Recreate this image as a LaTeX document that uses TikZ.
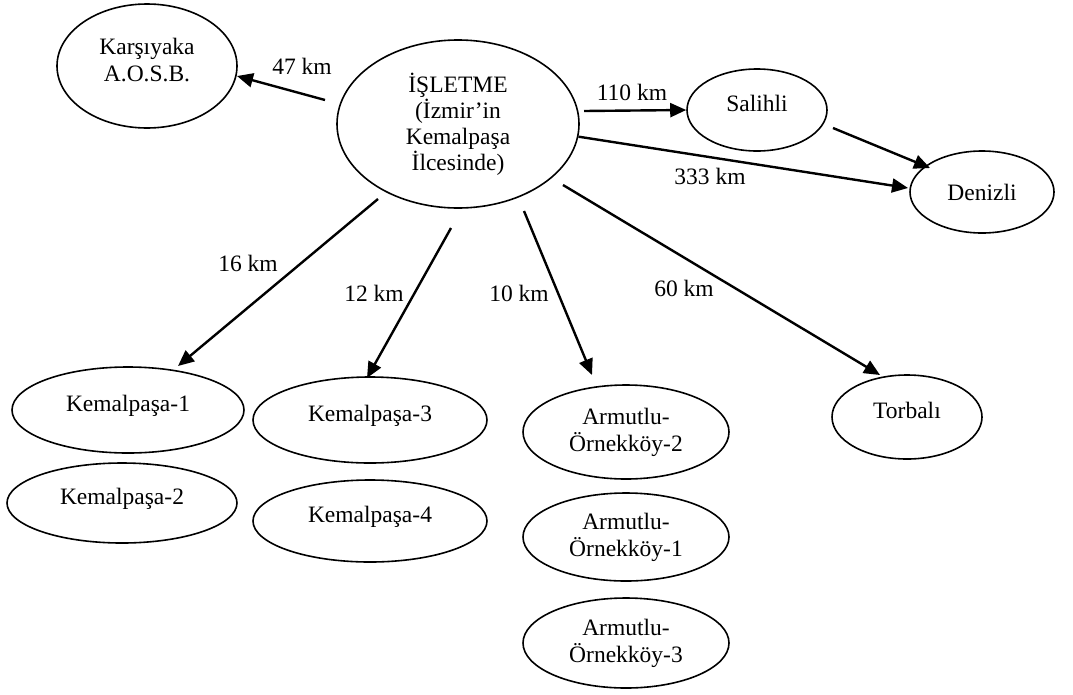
\documentclass[tikz,border=0pt]{standalone}
\usepackage{fontspec}
\setmainfont{Liberation Serif}
\usetikzlibrary{shapes.geometric,arrows.meta}
\begin{document}
\begin{tikzpicture}[x=1pt,y=-1pt,
  ell/.style={ellipse, draw, line width=1.6pt, inner sep=0pt, align=center,
              font=\fontsize{23.5}{27}\selectfont},
  up/.style={text height=16pt, text depth=14pt},
  arr/.style={line width=2.4pt, -{Triangle[length=16pt,width=14pt]}},
  lbl/.style={font=\fontsize{23.5}{27}\selectfont, inner sep=0pt}]
\useasboundingbox (0,0) rectangle (1073,694);

% nodes
\node[ell, minimum width=180pt, minimum height=124pt] (kar) at (147,66) {Karşıyaka\\A.O.S.B.\\[-15pt]\mbox{}};
\node[ell, minimum width=242pt, minimum height=168pt, font=\fontsize{23.5}{26}\selectfont] (isl) at (458,124) {İŞLETME\\(İzmir’in\\Kemalpaşa\\İlcesinde)};
\node[ell, up, minimum width=140pt, minimum height=82pt] (sal) at (757,110) {Salihli};
\node[ell, minimum width=144pt, minimum height=82pt] (den) at (982,192) {Denizli};
\node[ell, up, minimum width=150pt, minimum height=84pt] (tor) at (907,417) {Torbalı};
\node[ell, up, minimum width=232pt, minimum height=86pt] (k1) at (128,410) {Kemalpaşa-1};
\node[ell, up, minimum width=230pt, minimum height=80pt] (k2) at (122,503) {Kemalpaşa-2};
\node[ell, up, minimum width=234pt, minimum height=86pt] (k3) at (370,420) {Kemalpaşa-3};
\node[ell, up, minimum width=234pt, minimum height=82pt] (k4) at (370,521) {Kemalpaşa-4};
\node[ell, minimum width=206pt, minimum height=94pt] (a2) at (626,432) {Armutlu-\\Örnekköy-2};
\node[ell, minimum width=206pt, minimum height=88pt] (a1) at (626,537) {Armutlu-\\Örnekköy-1};
\node[ell, minimum width=206pt, minimum height=90pt] (a3) at (626,643) {Armutlu-\\Örnekköy-3};

% labels
\node[lbl] (l47) at (302,66) {47 km};
\node[lbl] (l110) at (632,92) {110 km};
\node[lbl] (l333) at (710,176) {333 km};
\node[lbl] (l16) at (248,263) {16 km};
\node[lbl] (l12) at (374,293) {12 km};
\node[lbl] (l10) at (519,293) {10 km};
\node[lbl] (l60) at (684,288) {60 km};

% free ends of connectors
\coordinate (s47) at (325,100);
\coordinate (t47) at (237,76);
\coordinate (s110) at (584,111);
\coordinate (ssd) at (833,128);
\coordinate (tsd) at (930,168);
\coordinate (t333) at (908,188);
\coordinate (s16) at (378,199);
\coordinate (t16) at (178,366);
\coordinate (s12) at (451,228);
\coordinate (t12) at (367,378);
\coordinate (s10) at (524,211);
\coordinate (t10) at (592,375);
\coordinate (s60) at (563,185);
\coordinate (t60) at (880,375);

% connectors
\draw[arr] (s47) -- (t47);
\draw[arr] (s110) -- (sal.west);
\draw[arr] (ssd) -- (tsd);
\draw[arr] (isl.-6.7) -- (t333);
\draw[arr] (s16) -- (t16);
\draw[arr] (s12) -- (t12);
\draw[arr] (s10) -- (t10);
\draw[arr] (s60) -- (t60);
\end{tikzpicture}
\end{document}
